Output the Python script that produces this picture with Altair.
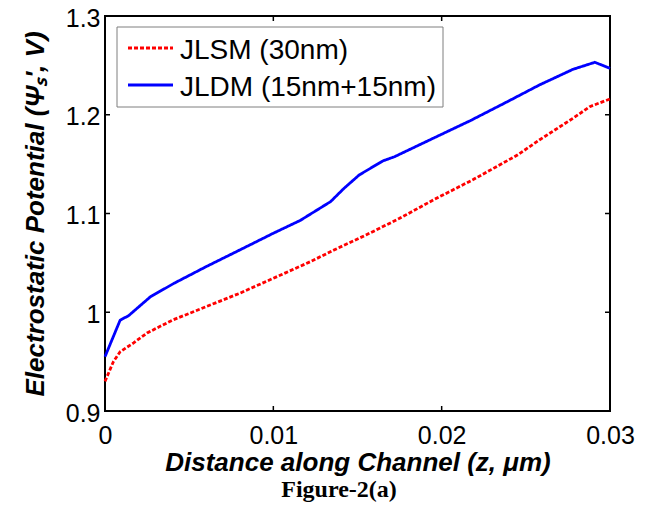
import altair as alt
import pandas as pd

# ---- data ----
series_names = ["JLSM (30nm)", "JLDM (15nm+15nm)"]

jlsm_z = [0, 0.0005, 0.0009, 0.0017, 0.0025, 0.0040, 0.0060, 0.0080, 0.0100, 0.0122,
          0.0136, 0.0155, 0.0175, 0.0195, 0.0219, 0.0245, 0.0258, 0.0278, 0.0288, 0.0300]
jlsm_v = [0.930, 0.950, 0.960, 0.969, 0.979, 0.992, 1.0056, 1.0192, 1.0344, 1.0512,
          1.063, 1.0782, 1.0951, 1.1137, 1.1346, 1.1592, 1.1744, 1.1964, 1.2082, 1.2160]

jldm_z = [0, 0.0009, 0.0014, 0.0027, 0.0041, 0.0060, 0.0080, 0.0100, 0.0116, 0.0134,
          0.0142, 0.0151, 0.0165, 0.0172, 0.0195, 0.0217, 0.0239, 0.0258, 0.0278, 0.0291, 0.0300]
jldm_v = [0.955, 0.992, 0.9965, 1.0157, 1.0293, 1.0461, 1.0630, 1.0800, 1.0930, 1.112,
          1.1255, 1.139, 1.1532, 1.1575, 1.1762, 1.194, 1.2132, 1.2301, 1.246, 1.2531, 1.247]

x_ticks = [0, 0.01, 0.02, 0.03]
y_ticks = [0.9, 1.0, 1.1, 1.2, 1.3]
x_inner_ticks = [0.01, 0.02]
y_inner_ticks = [1.0, 1.1, 1.2]

x_title = "Distance along Channel (z, \u03bcm)"
y_title = "Electrostatic Potential (\u03a8\u209b', V)"
caption = "Figure-2(a)"

colors = ["#ff0000", "#0000ff"]
dashes = [[4, 2], [1, 0]]

W, H = 505, 395

rows = []
for z, v in zip(jlsm_z, jlsm_v):
    rows.append({"z": z, "v": v, "series": series_names[0]})
for z, v in zip(jldm_z, jldm_v):
    rows.append({"z": z, "v": v, "series": series_names[1]})
df = pd.DataFrame(rows)

xscale = alt.Scale(domain=[0, 0.03], nice=False, zero=False)
yscale = alt.Scale(domain=[0.9, 1.3], nice=False, zero=False)

FONT = "Liberation Sans"

xaxis = alt.Axis(values=x_ticks, format="~g", grid=False, ticks=False, domain=False,
                 labelFont=FONT, labelFontSize=25, labelColor="black", labelPadding=12,
                 labelFlush=False, labelOverlap=False,
                 title=x_title, titleFont=FONT, titleFontSize=26, titleFontWeight="bold",
                 titleFontStyle="italic", titleColor="black", titlePadding=1)
yaxis = alt.Axis(values=y_ticks, format="~g", grid=False, ticks=False, domain=False,
                 labelFont=FONT, labelFontSize=25, labelColor="black", labelPadding=5,
                 labelOffset=2, labelFlush=False, labelOverlap=False,
                 title=y_title, titleFont=FONT, titleFontSize=26, titleFontWeight="bold",
                 titleFontStyle="italic", titleColor="black", titlePadding=17)

lines = alt.Chart(df).mark_line(strokeWidth=2.8).encode(
    x=alt.X("z:Q", scale=xscale, axis=xaxis),
    y=alt.Y("v:Q", scale=yscale, axis=yaxis),
    color=alt.Color("series:N", scale=alt.Scale(domain=series_names, range=colors), legend=None),
    strokeDash=alt.StrokeDash("series:N", scale=alt.Scale(domain=series_names, range=dashes), legend=None),
    order=alt.Order("z:Q"),
)

xt = pd.DataFrame({"t": x_inner_ticks})
yt = pd.DataFrame({"t": y_inner_ticks})
tick_style = dict(color="black", strokeWidth=1.5)
ticks_bottom = alt.Chart(xt).mark_rule(**tick_style).encode(
    x=alt.X("t:Q", scale=xscale), y=alt.value(H), y2=alt.value(H - 5))
ticks_top = alt.Chart(xt).mark_rule(**tick_style).encode(
    x=alt.X("t:Q", scale=xscale), y=alt.value(0), y2=alt.value(5))
ticks_left = alt.Chart(yt).mark_rule(**tick_style).encode(
    y=alt.Y("t:Q", scale=yscale), x=alt.value(0), x2=alt.value(5))
ticks_right = alt.Chart(yt).mark_rule(**tick_style).encode(
    y=alt.Y("t:Q", scale=yscale), x=alt.value(W), x2=alt.value(W - 5))

one = alt.Data(values=[{"k": 0}])
legend_box = alt.Chart(one).mark_rect(fill="white", stroke="#7f7f7f", strokeWidth=1).encode(
    x=alt.value(12), x2=alt.value(338), y=alt.value(11), y2=alt.value(91))

legend_layers = []
for i, (name, col, dsh, ly) in enumerate(zip(series_names, colors, dashes, [32, 69])):
    legend_layers.append(
        alt.Chart(alt.Data(values=[{"label": name}])).mark_rule(
            color=col, strokeWidth=2.8, strokeDash=dsh).encode(
            x=alt.value(23), x2=alt.value(68), y=alt.value(ly)))
    legend_layers.append(
        alt.Chart(alt.Data(values=[{"label": name}])).mark_text(
            font=FONT, fontSize=28, color="black", align="left", baseline="middle").encode(
            x=alt.value(75), y=alt.value(ly + 3), text="label:N"))

cap = alt.Chart(alt.Data(values=[{"label": caption}])).mark_text(
    font="Liberation Serif", fontSize=24, fontWeight="bold", color="black",
    align="center", baseline="alphabetic").encode(
    x=alt.value(234), y=alt.value(481), text="label:N")

chart = alt.layer(
    lines, legend_box, *legend_layers, ticks_bottom, ticks_top, ticks_left, ticks_right, cap
).properties(
    width=W, height=H,
    padding={"left": 97, "top": 8, "right": 30, "bottom": 91},
    autosize=alt.AutoSizeParams(type="none"),
).configure_view(stroke="black", strokeWidth=2)

chart.save("out.html", embed_options={"renderer": "svg", "actions": False})
